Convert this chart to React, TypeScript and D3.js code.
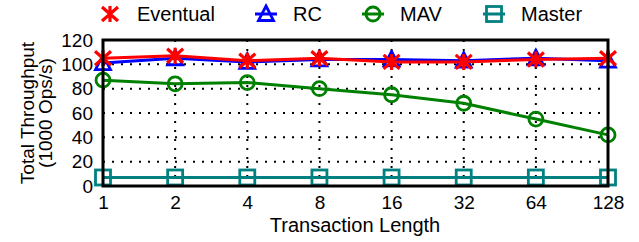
import React, { useEffect, useRef } from 'react';
import * as d3 from 'd3';

const lengths = [1, 2, 4, 8, 16, 32, 64, 128];
const eventual = [105, 107, 103, 105, 102, 102, 104, 105];
const rc = [101, 105, 102, 104, 104, 103, 105, 103];
const mav = [87, 84, 85, 80, 75, 68, 55, 42];
const master = [7, 7, 7, 7, 7, 7, 7, 7];
const yTicks = [0, 20, 40, 60, 80, 100, 120];

// drawing order: RC under Eventual
const seriesList = [
  { name: 'Master', values: master, color: '#008080', marker: 'square' },
  { name: 'MAV', values: mav, color: '#008000', marker: 'circle' },
  { name: 'RC', values: rc, color: '#0000ff', marker: 'triangle' },
  { name: 'Eventual', values: eventual, color: '#ff0000', marker: 'star' },
];
const legendOrder = ['Eventual', 'RC', 'MAV', 'Master'];
const legendX = [110, 266, 373, 494];

const W = 639;
const H = 242;
const margin = { left: 103, right: 31, top: 40, bottom: 56 };

// draw one marker of a given kind at (0,0)
const drawMarker = (g: any, kind: string, color: string) => {
  const base = (sel: any) => sel.attr('stroke', color).attr('stroke-width', 2.8).attr('fill', 'none');
  if (kind === 'star') {
    const s = 8;
    base(g.append('path')
      .attr('d', `M${-s},${-s + 1}L${s},${s - 1}M${-s},${s - 1}L${s},${-s + 1}M0,${-s}L0,${s}`))
      .attr('stroke-width', 3.2);
  } else if (kind === 'triangle') {
    const s = 7.5;
    base(g.append('path').attr('d', `M0,${-s - 0.5}L${s},${s - 1}L${-s},${s - 1}Z`));
  } else if (kind === 'circle') {
    base(g.append('circle').attr('r', 7));
  } else {
    const s = 7.5;
    base(g.append('rect').attr('x', -s).attr('y', -s).attr('width', 2 * s).attr('height', 2 * s));
  }
};

const App = () => {
  const ref = useRef<SVGSVGElement>(null);

  useEffect(() => {
    const svg = d3.select(ref.current);
    svg.selectAll('*').remove();

    const x = d3.scaleLog().base(2).domain([1, 128]).range([margin.left, W - margin.right]);
    const y = d3.scaleLinear().domain([0, 120]).range([H - margin.bottom, margin.top]);
    const font = 'Liberation Sans, Arial, sans-serif';

    // grid
    const grid = svg.append('g');
    grid.selectAll('line.h').data(yTicks.slice(1, -1)).join('line')
      .attr('x1', margin.left).attr('x2', W - margin.right)
      .attr('y1', d => y(d)).attr('y2', d => y(d))
      .attr('stroke', '#000').attr('stroke-width', 2).attr('stroke-dasharray', '2,7');
    grid.selectAll('line.v').data(lengths.slice(1, -1)).join('line')
      .attr('y1', margin.top).attr('y2', H - margin.bottom)
      .attr('x1', d => x(d)).attr('x2', d => x(d))
      .attr('stroke', '#000').attr('stroke-width', 2).attr('stroke-dasharray', '2,7');

    // series lines + markers
    seriesList.forEach(s => {
      const line = d3.line<number>().x((_, i) => x(lengths[i])).y(d => y(d));
      svg.append('path').datum(s.values).attr('d', line)
        .attr('fill', 'none').attr('stroke', s.color).attr('stroke-width', 3);
      s.values.forEach((v, i) => {
        const g = svg.append('g').attr('transform', `translate(${x(lengths[i])},${y(v)})`);
        drawMarker(g, s.marker, s.color);
      });
    });

    // frame
    svg.append('rect')
      .attr('x', margin.left).attr('y', margin.top)
      .attr('width', W - margin.left - margin.right).attr('height', H - margin.top - margin.bottom)
      .attr('fill', 'none').attr('stroke', '#000').attr('stroke-width', 3);

    // ticks
    const yAxis = d3.axisLeft(y).tickValues(yTicks).tickSize(0).tickPadding(10);
    const ya = svg.append('g').attr('transform', `translate(${margin.left},0)`).call(yAxis);
    ya.select('.domain').remove();
    ya.selectAll('text').attr('font-size', 19).attr('font-family', font).attr('fill', '#000');

    const xAxis = d3.axisBottom(x).tickValues(lengths).tickFormat(d3.format('d')).tickSize(0).tickPadding(10);
    const xa = svg.append('g').attr('transform', `translate(0,${H - margin.bottom})`).call(xAxis);
    xa.select('.domain').remove();
    xa.selectAll('text').attr('font-size', 19).attr('font-family', font).attr('fill', '#000');

    // axis titles
    svg.append('text').attr('x', 355).attr('y', 232)
      .attr('text-anchor', 'middle').attr('font-size', 20).attr('font-family', font)
      .text('Transaction Length');
    const yt = svg.append('text').attr('transform', `translate(34,113) rotate(-90)`)
      .attr('text-anchor', 'middle').attr('font-size', 19).attr('font-family', font);
    yt.append('tspan').attr('x', 0).attr('dy', 0).text('Total Throughput');
    yt.append('tspan').attr('x', 0).attr('dy', 18).text('(1000 Ops/s)');

    // legend
    legendOrder.forEach((name, i) => {
      const s = seriesList.find(d => d.name === name)!;
      const g = svg.append('g').attr('transform', `translate(${legendX[i]},14)`);
      if (s.marker !== 'star') {
        g.append('line').attr('x1', -11).attr('x2', 11).attr('stroke', s.color).attr('stroke-width', 3);
      }
      drawMarker(g, s.marker, s.color);
      g.append('text').attr('x', 27).attr('y', 7).attr('font-size', 20).attr('font-family', font)
        .text(s.name);
    });
  }, []);

  return <svg ref={ref} width={W} height={H} style={{ display: 'block', position: 'absolute', left: 0, top: 0 }} />;
};

export default App;
